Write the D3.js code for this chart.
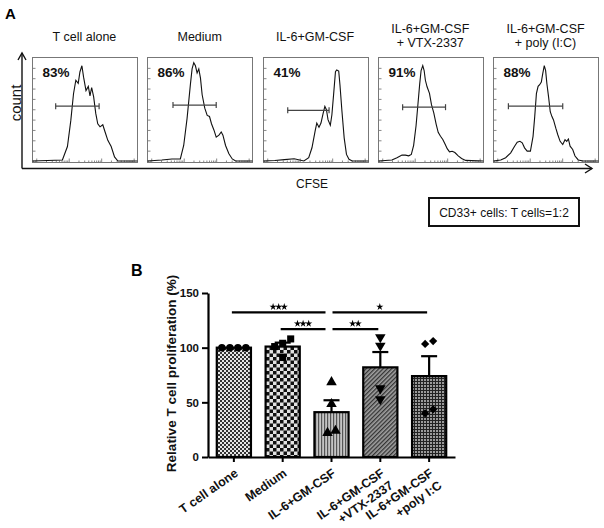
<!DOCTYPE html>
<html><head><meta charset="utf-8">
<script src="https://cdn.jsdelivr.net/npm/d3@7"></script>
<style>body{margin:0;background:#fff} svg{display:block;font-family:"Liberation Sans",Arial,sans-serif}</style>
</head><body><svg id="c" width="604" height="528"></svg>
<script>
// ---------- Panel A data ----------
const conditions = [["T cell alone"],["Medium"],["IL-6+GM-CSF"],["IL-6+GM-CSF","+ VTX-2337"],["IL-6+GM-CSF","+ poly (I:C)"]];
const percentLabels = ["83%","86%","41%","91%","88%"];
// CFSE histograms: [CFSE channel (0-1000), relative count (0-100)]
const histTcell = [[0,0],[285,1],[333,14],[365,39],[391,65],[413,78],[436,75],[452,86],[471,92],[487,81],[510,68],[532,72],[548,63],[564,71],[583,62],[603,46],[622,36],[644,33],[670,35],[692,28],[718,20],[750,14],[782,4],[814,0],[1000,0]];
const histMedium = [[0,0],[137,1],[233,2],[313,2],[345,15],[377,41],[409,74],[425,89],[441,95],[457,92],[473,85],[489,89],[505,80],[521,64],[546,51],[569,44],[591,43],[610,36],[633,30],[655,23],[681,25],[703,28],[719,25],[744,15],[776,7],[808,2],[840,0],[1000,0]];
const histIL6 = [[0,0],[108,0.5],[200,1.3],[292,2.2],[385,0],[431,3.2],[462,12.8],[492,28.8],[508,36.7],[529,32.6],[548,36.7],[569,46.3],[585,52.7],[600,49.5],[615,39.9],[637,34.5],[652,44.7],[668,63.9],[686,86.3],[698,87.9],[717,86.9],[729,73.5],[748,47.9],[769,22.4],[791,6.4],[815,1.6],[846,0],[1000,0]];
const histVTX = [[0,0],[128,0.9],[176,3.1],[224,5.7],[256,5.7],[288,5],[313,6.3],[335,15.1],[358,34],[377,56],[393,74.8],[406,87.4],[422,92.1],[435,87.4],[447,78],[463,71.7],[486,65.4],[505,54.4],[527,46.5],[550,35.5],[569,27.7],[591,23.9],[613,20.8],[633,16.7],[655,11.9],[677,8.8],[703,9.4],[728,8.2],[760,5],[792,2.5],[831,0.6],[1000,0]];
const histPoly = [[0,0],[69,1],[116,3.2],[164,7.9],[201,14.3],[226,18.1],[252,19],[274,17.5],[296,12.7],[321,9.5],[352,9.5],[377,23.8],[393,42.9],[409,65.1],[425,72.1],[440,73.7],[456,76.2],[469,84.1],[484,92.1],[497,87.3],[509,74.6],[525,61.9],[541,47.6],[557,42.9],[572,39.7],[594,31.7],[613,25.4],[635,19],[660,15.9],[682,20.6],[698,19],[714,21.3],[730,14.3],[755,11.1],[777,4.8],[808,1],[855,0],[1000,0]];
const histograms = [histTcell, histMedium, histIL6, histVTX, histPoly];
// proliferation gates: [start, end, level]
const gates = [[221,635,53],[243,655,54],[231,625,49],[230,639,52],[142,660,53]];

// ---------- Panel B data ----------
const groups = [["T cell alone"],["Medium"],["IL-6+GM-CSF"],["IL-6+GM-CSF","+VTX-2337"],["IL-6+GM-CSF","+poly I:C"]];
const means = [100, 101, 41, 82, 74];
const sems  = [0, 3.6, 10.9, 14, 18.2];
const pointsTcell  = [100, 100, 100, 100];
const pointsMedium = [104, 108, 101, 91];
const pointsIL6    = [68.5, 48.5, 22, 24];
const pointsVTX    = [109.5, 101.8, 62.8, 52.8];
const pointsPoly   = [106, 103.4, 40, 43.6];
const points = [pointsTcell, pointsMedium, pointsIL6, pointsVTX, pointsPoly];
const yTicks = [0, 50, 100, 150];
const comparisons = [
  {a:0, b:2, stars:3, level:1},
  {a:1, b:2, stars:3, level:0},
  {a:2, b:3, stars:2, level:0},
  {a:2, b:4, stars:1, level:1}
];

const svg = d3.select("#c");
const defs = svg.append("defs");

// ================= PANEL A =================
svg.append("text").attr("x",5).attr("y",18.5).attr("font-size",15).attr("font-weight","bold").text("A");

const boxTop = 57, boxBot = 162;
const xBox = d3.scaleBand().domain(d3.range(5)).range([32, 598]).paddingInner(0.09);
const bw = xBox.bandwidth(), bh = boxBot - boxTop;
const xc = d3.scaleLinear().domain([0,1000]).range([0,bw]);
const yc = d3.scaleLinear().domain([0,100]).range([bh-1.5, 0]);
const xLog = d3.scaleLog().domain([7.4, 12600]).range([0,bw]);

conditions.forEach((lines,i)=>{
  const cx = xBox(i) + bw/2;
  const startY = lines.length === 1 ? 41 : 32.5;
  const t = svg.append("text").attr("text-anchor","middle").attr("font-size",12.5).attr("fill","#111");
  lines.forEach((l,k)=> t.append("tspan").attr("x",cx).attr("y",startY + k*14.5).text(l));

  const g = svg.append("g").attr("transform",`translate(${Math.round(xBox(i))+0.5},${boxTop+0.5})`);
  // inner ticks
  g.append("g").call(d3.axisRight(yc).tickValues(d3.range(10,100,10)).tickSize(3).tickFormat(""))
    .call(s=>{s.select(".domain").remove(); s.selectAll("line").attr("stroke","#888");});
  const logTicks = xLog.ticks().filter(v=>v>xLog.domain()[0] && v<xLog.domain()[1]);
  g.append("g").attr("transform",`translate(0,${bh})`)
    .selectAll("line").data(logTicks).join("line")
    .attr("x1",d=>xLog(d)).attr("x2",d=>xLog(d)).attr("y1",0)
    .attr("y2",d=> (Math.log10(d)%1===0) ? -4 : -2).attr("stroke","#888");
  g.append("rect").attr("width",Math.round(bw)).attr("height",bh).attr("fill","none").attr("stroke","#777").attr("stroke-width",1);
  // histogram
  g.append("path").datum(histograms[i])
    .attr("d", d3.line().x(d=>xc(d[0])).y(d=>yc(d[1])))
    .attr("fill","none").attr("stroke","#111").attr("stroke-width",1.1);
  // gate
  const [g0,g1,gl] = gates[i];
  g.append("line").attr("x1",xc(g0)).attr("x2",xc(g1)).attr("y1",yc(gl)).attr("y2",yc(gl)).attr("stroke","#444").attr("stroke-width",1.2);
  [g0,g1].forEach(v=> g.append("line").attr("x1",xc(v)).attr("x2",xc(v)).attr("y1",yc(gl)-3).attr("y2",yc(gl)+3).attr("stroke","#444").attr("stroke-width",1.2));
  g.append("text").attr("x",10).attr("y",76-boxTop).attr("font-size",13.5).attr("font-weight","bold").attr("fill","#111").text(percentLabels[i]);
});

// outer axes with arrows
const ax = svg.append("g").attr("stroke","#111").attr("fill","none").attr("stroke-width",1.4);
ax.append("path").attr("d","M22,168.5H592");
ax.append("path").attr("d","M585,164L592,168.5L585,173");
ax.append("path").attr("d","M22,168.5V53");
ax.append("path").attr("d","M18,60L22,53L26,60");
svg.append("text").attr("transform","translate(20.5,103) rotate(-90)").attr("text-anchor","middle").attr("font-size",15).attr("fill","#111").text("count");
svg.append("text").attr("x",312).attr("y",188).attr("text-anchor","middle").attr("font-size",12).attr("fill","#111").text("CFSE");
svg.append("rect").attr("x",429).attr("y",198).attr("width",150).attr("height",28).attr("fill","none").attr("stroke","#111").attr("stroke-width",2);
svg.append("text").attr("x",504).attr("y",216.5).attr("text-anchor","middle").attr("font-size",12).attr("fill","#111").text("CD33+ cells: T cells=1:2");

// ================= PANEL B =================
svg.append("text").attr("x",131).attr("y",276).attr("font-size",16).attr("font-weight","bold").text("B");

// patterns
const p1 = defs.append("pattern").attr("id","p1").attr("patternUnits","userSpaceOnUse").attr("width",4).attr("height",4);
p1.append("rect").attr("width",4).attr("height",4).attr("fill","#e6e6e6");
p1.append("rect").attr("width",2).attr("height",2).attr("fill","#333");
p1.append("rect").attr("x",2).attr("y",2).attr("width",2).attr("height",2).attr("fill","#333");
const p2 = defs.append("pattern").attr("id","p2").attr("patternUnits","userSpaceOnUse").attr("width",7).attr("height",7);
p2.append("rect").attr("width",7).attr("height",7).attr("fill","#e2e2e2");
p2.append("rect").attr("width",3.5).attr("height",3.5).attr("fill","#111");
p2.append("rect").attr("x",3.5).attr("y",3.5).attr("width",3.5).attr("height",3.5).attr("fill","#111");
const p3 = defs.append("pattern").attr("id","p3").attr("patternUnits","userSpaceOnUse").attr("width",3).attr("height",3);
p3.append("rect").attr("width",3).attr("height",3).attr("fill","#c4c4c4");
p3.append("rect").attr("width",1.2).attr("height",3).attr("fill","#555");
const p4 = defs.append("pattern").attr("id","p4").attr("patternUnits","userSpaceOnUse").attr("width",3).attr("height",3).attr("patternTransform","rotate(45)");
p4.append("rect").attr("width",3).attr("height",3).attr("fill","#a0a0a0");
p4.append("rect").attr("width",1.3).attr("height",3).attr("fill","#333");
const p5 = defs.append("pattern").attr("id","p5").attr("patternUnits","userSpaceOnUse").attr("width",3).attr("height",3);
p5.append("rect").attr("width",3).attr("height",3).attr("fill","#9a9a9a");
p5.append("rect").attr("width",1).attr("height",3).attr("fill","#222");
p5.append("rect").attr("width",3).attr("height",1).attr("fill","#222");
const fills = ["url(#p1)","url(#p2)","url(#p3)","url(#p4)","url(#p5)"];

const yB = d3.scaleLinear().domain([0,150]).range([457,293]);
const xB = d3.scaleBand().domain(d3.range(5)).range([208,455]).paddingInner(0.3).paddingOuter(0.18);
const cB = i => xB(i) + xB.bandwidth()/2;

// bars
svg.append("g").selectAll("rect").data(means).join("rect")
  .attr("x",(d,i)=>xB(i)).attr("y",d=>yB(d)).attr("width",xB.bandwidth()).attr("height",d=>yB(0)-yB(d))
  .attr("fill",(d,i)=>fills[i]).attr("stroke","#000").attr("stroke-width",2.2);

// error bars
const eb = svg.append("g").attr("stroke","#000").attr("stroke-width",2.2);
means.forEach((m,i)=>{
  if (sems[i] <= 0) return;
  eb.append("line").attr("x1",cB(i)).attr("x2",cB(i)).attr("y1",yB(m)).attr("y2",yB(m+sems[i]));
  eb.append("line").attr("x1",cB(i)-8).attr("x2",cB(i)+8).attr("y1",yB(m+sems[i])).attr("y2",yB(m+sems[i]));
});

// points with simple horizontal spreading of overlapping markers
const symbols = [
  {type:d3.symbolCircle, size:44, rot:0},
  {type:d3.symbolSquare, size:50, rot:0},
  {type:d3.symbolTriangle, size:48, rot:0},
  {type:d3.symbolTriangle, size:48, rot:180},
  {type:d3.symbolSquare, size:34, rot:45}
];
points.forEach((vals,i)=>{
  const sorted = vals.map((v,k)=>({v,k})).sort((a,b)=>a.v-b.v);
  const clusters = [];
  sorted.forEach(p=>{
    const last = clusters[clusters.length-1];
    if (last && Math.abs(yB(last[last.length-1].v)-yB(p.v)) < 6) last.push(p); else clusters.push([p]);
  });
  const s = symbols[i];
  clusters.forEach(cl=>{
    cl.forEach((p,j)=>{
      const dx = (j - (cl.length-1)/2) * 8;
      svg.append("path").attr("d", d3.symbol(s.type, s.size)())
        .attr("transform",`translate(${cB(i)+dx},${yB(p.v)}) rotate(${s.rot})`).attr("fill","#000");
    });
  });
});

// axes
const yAxis = svg.append("g").attr("transform","translate(208,0)")
  .call(d3.axisLeft(yB).tickValues(yTicks).tickSize(6).tickSizeOuter(0).tickPadding(3));
yAxis.select(".domain").attr("stroke-width",2.2);
yAxis.selectAll(".tick line").attr("stroke-width",2);
yAxis.selectAll(".tick text").attr("font-size",11.5).attr("font-weight","bold").attr("font-family","Liberation Sans, Arial, sans-serif").attr("fill","#111");

const xAxis = svg.append("g").attr("transform","translate(0,457)")
  .call(d3.axisBottom(xB).tickSize(5).tickSizeOuter(0).tickFormat(""));
xAxis.select(".domain").attr("stroke-width",2.2);
xAxis.selectAll(".tick line").attr("stroke-width",2);

groups.forEach((lines,i)=>{
  const t = svg.append("text").attr("transform",`translate(${cB(i)+5},475) rotate(-35)`)
    .attr("text-anchor","end").attr("font-size",12.5).attr("font-weight","bold").attr("fill","#111");
  lines.forEach((l,k)=> t.append("tspan").attr("x",0).attr("y",k*15).text(l));
});

svg.append("text").attr("transform","translate(175.5,373.5) rotate(-90)").attr("text-anchor","middle")
  .attr("font-size",13.5).attr("font-weight","bold").attr("fill","#111").text("Relative T cell proliferation (%)");

// significance
const sg = svg.append("g");
comparisons.forEach(c=>{
  const y = yB(117 + 15.3*c.level);
  const x1 = cB(c.a) + (c.a===2 ? 1 : -2);
  const x2 = cB(c.b) + (c.b===2 ? -6 : -2);
  sg.append("line").attr("x1",x1).attr("x2",x2).attr("y1",y).attr("y2",y).attr("stroke","#000").attr("stroke-width",2.2);
  const mid = (x1+x2)/2;
  for (let k=0;k<c.stars;k++){
    const sx = mid + (k-(c.stars-1)/2)*5.6;
    sg.append("path").attr("d", d3.symbol(d3.symbolStar, 16)()).attr("transform",`translate(${sx},${y-5.5})`).attr("fill","#000");
  }
});
</script></body></html>
